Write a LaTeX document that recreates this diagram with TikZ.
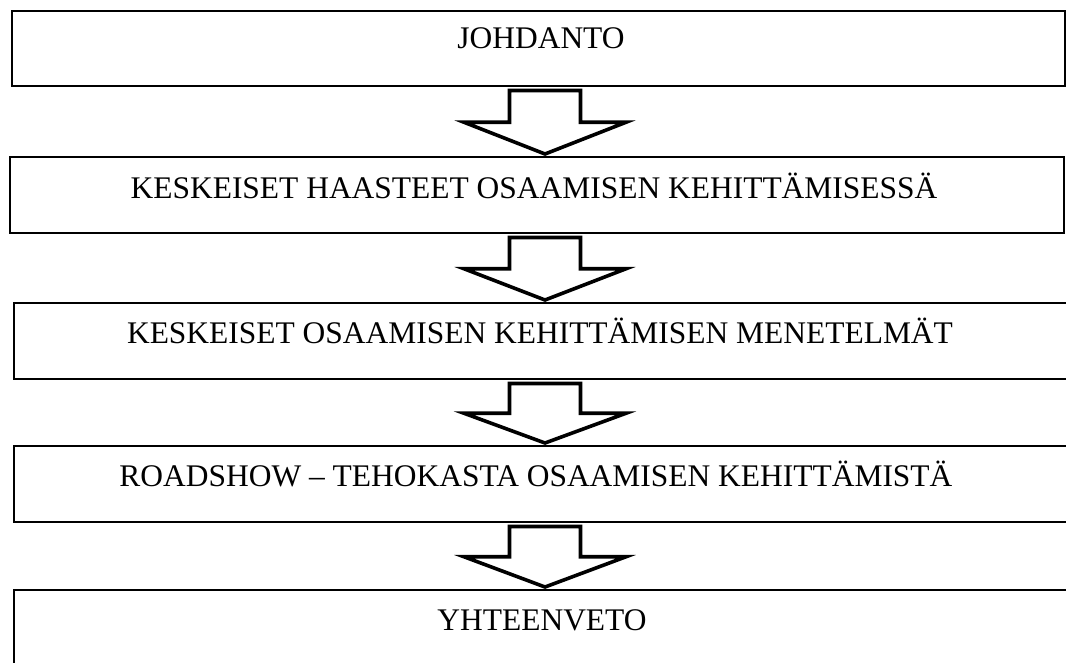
\documentclass[tikz,border=0pt]{standalone}
\usepackage{fontspec}
\setmainfont{Liberation Serif}
\usetikzlibrary{fit,calc}

% block arrow from the bottom of one box to the top of the next
\newcommand\flowarrow[2]{%
  \coordinate (#1#2t) at ($(#1.south -| axis)+(0,4.5)$);
  \coordinate (#1#2p) at ($(#2.north -| axis)+(0,-3)$);
  \coordinate (#1#2m) at ($(#1#2t)!0.5!(#1#2p)$);
  \draw[blockarrow] ($(#1#2t)+(-35.5,0)$) -- ($(#1#2t)+(35.5,0)$)
    -- ($(#1#2m)+(35.5,0)$) -- ($(#1#2m)+(81,0)$) -- (#1#2p)
    -- ($(#1#2m)+(-81,0)$) -- ($(#1#2m)+(-35.5,0)$) -- cycle;
}

\begin{document}
\begin{tikzpicture}[x=0.75pt,y=-0.75pt,
  box/.style={draw, line width=1.2pt, inner sep=0pt, outer sep=0pt},
  lbl/.style={font=\fontsize{23.6pt}{28pt}\selectfont, inner sep=0pt, anchor=base},
  blockarrow/.style={draw, line width=2.7pt, fill=white, line join=miter, miter limit=10}]
  \useasboundingbox (0,0) rectangle (1066,662);
  \clip (0,0) rectangle (1066,662);
  \fill[white] (0,0) rectangle (1066,662);

  \coordinate (axis) at (545,0);

  % boxes
  \node[box, fit={(12,11) (1065,86)}] (b1) {};
  \node[box, fit={(10,157) (1064,233)}] (b2) {};
  \node[box, fit={(14,303) (1080,379)}] (b3) {};
  \node[box, fit={(14,446) (1080,522)}] (b4) {};
  \node[box, fit={(14,590) (1080,690)}] (b5) {};

  % titles
  \node[lbl] (t1) at (541,48) {JOHDANTO};
  \node[lbl] (t2) at (534,198) {KESKEISET HAASTEET OSAAMISEN KEHITTÄMISESSÄ};
  \node[lbl] (t3) at (540,343) {KESKEISET OSAAMISEN KEHITTÄMISEN MENETELMÄT};
  \node[lbl] (t4) at (536,486) {ROADSHOW – TEHOKASTA OSAAMISEN KEHITTÄMISTÄ};
  \node[lbl] (t5) at (542,630) {YHTEENVETO};

  % arrows between the boxes
  \flowarrow{b1}{b2}
  \flowarrow{b2}{b3}
  \flowarrow{b3}{b4}
  \flowarrow{b4}{b5}
\end{tikzpicture}
\end{document}
